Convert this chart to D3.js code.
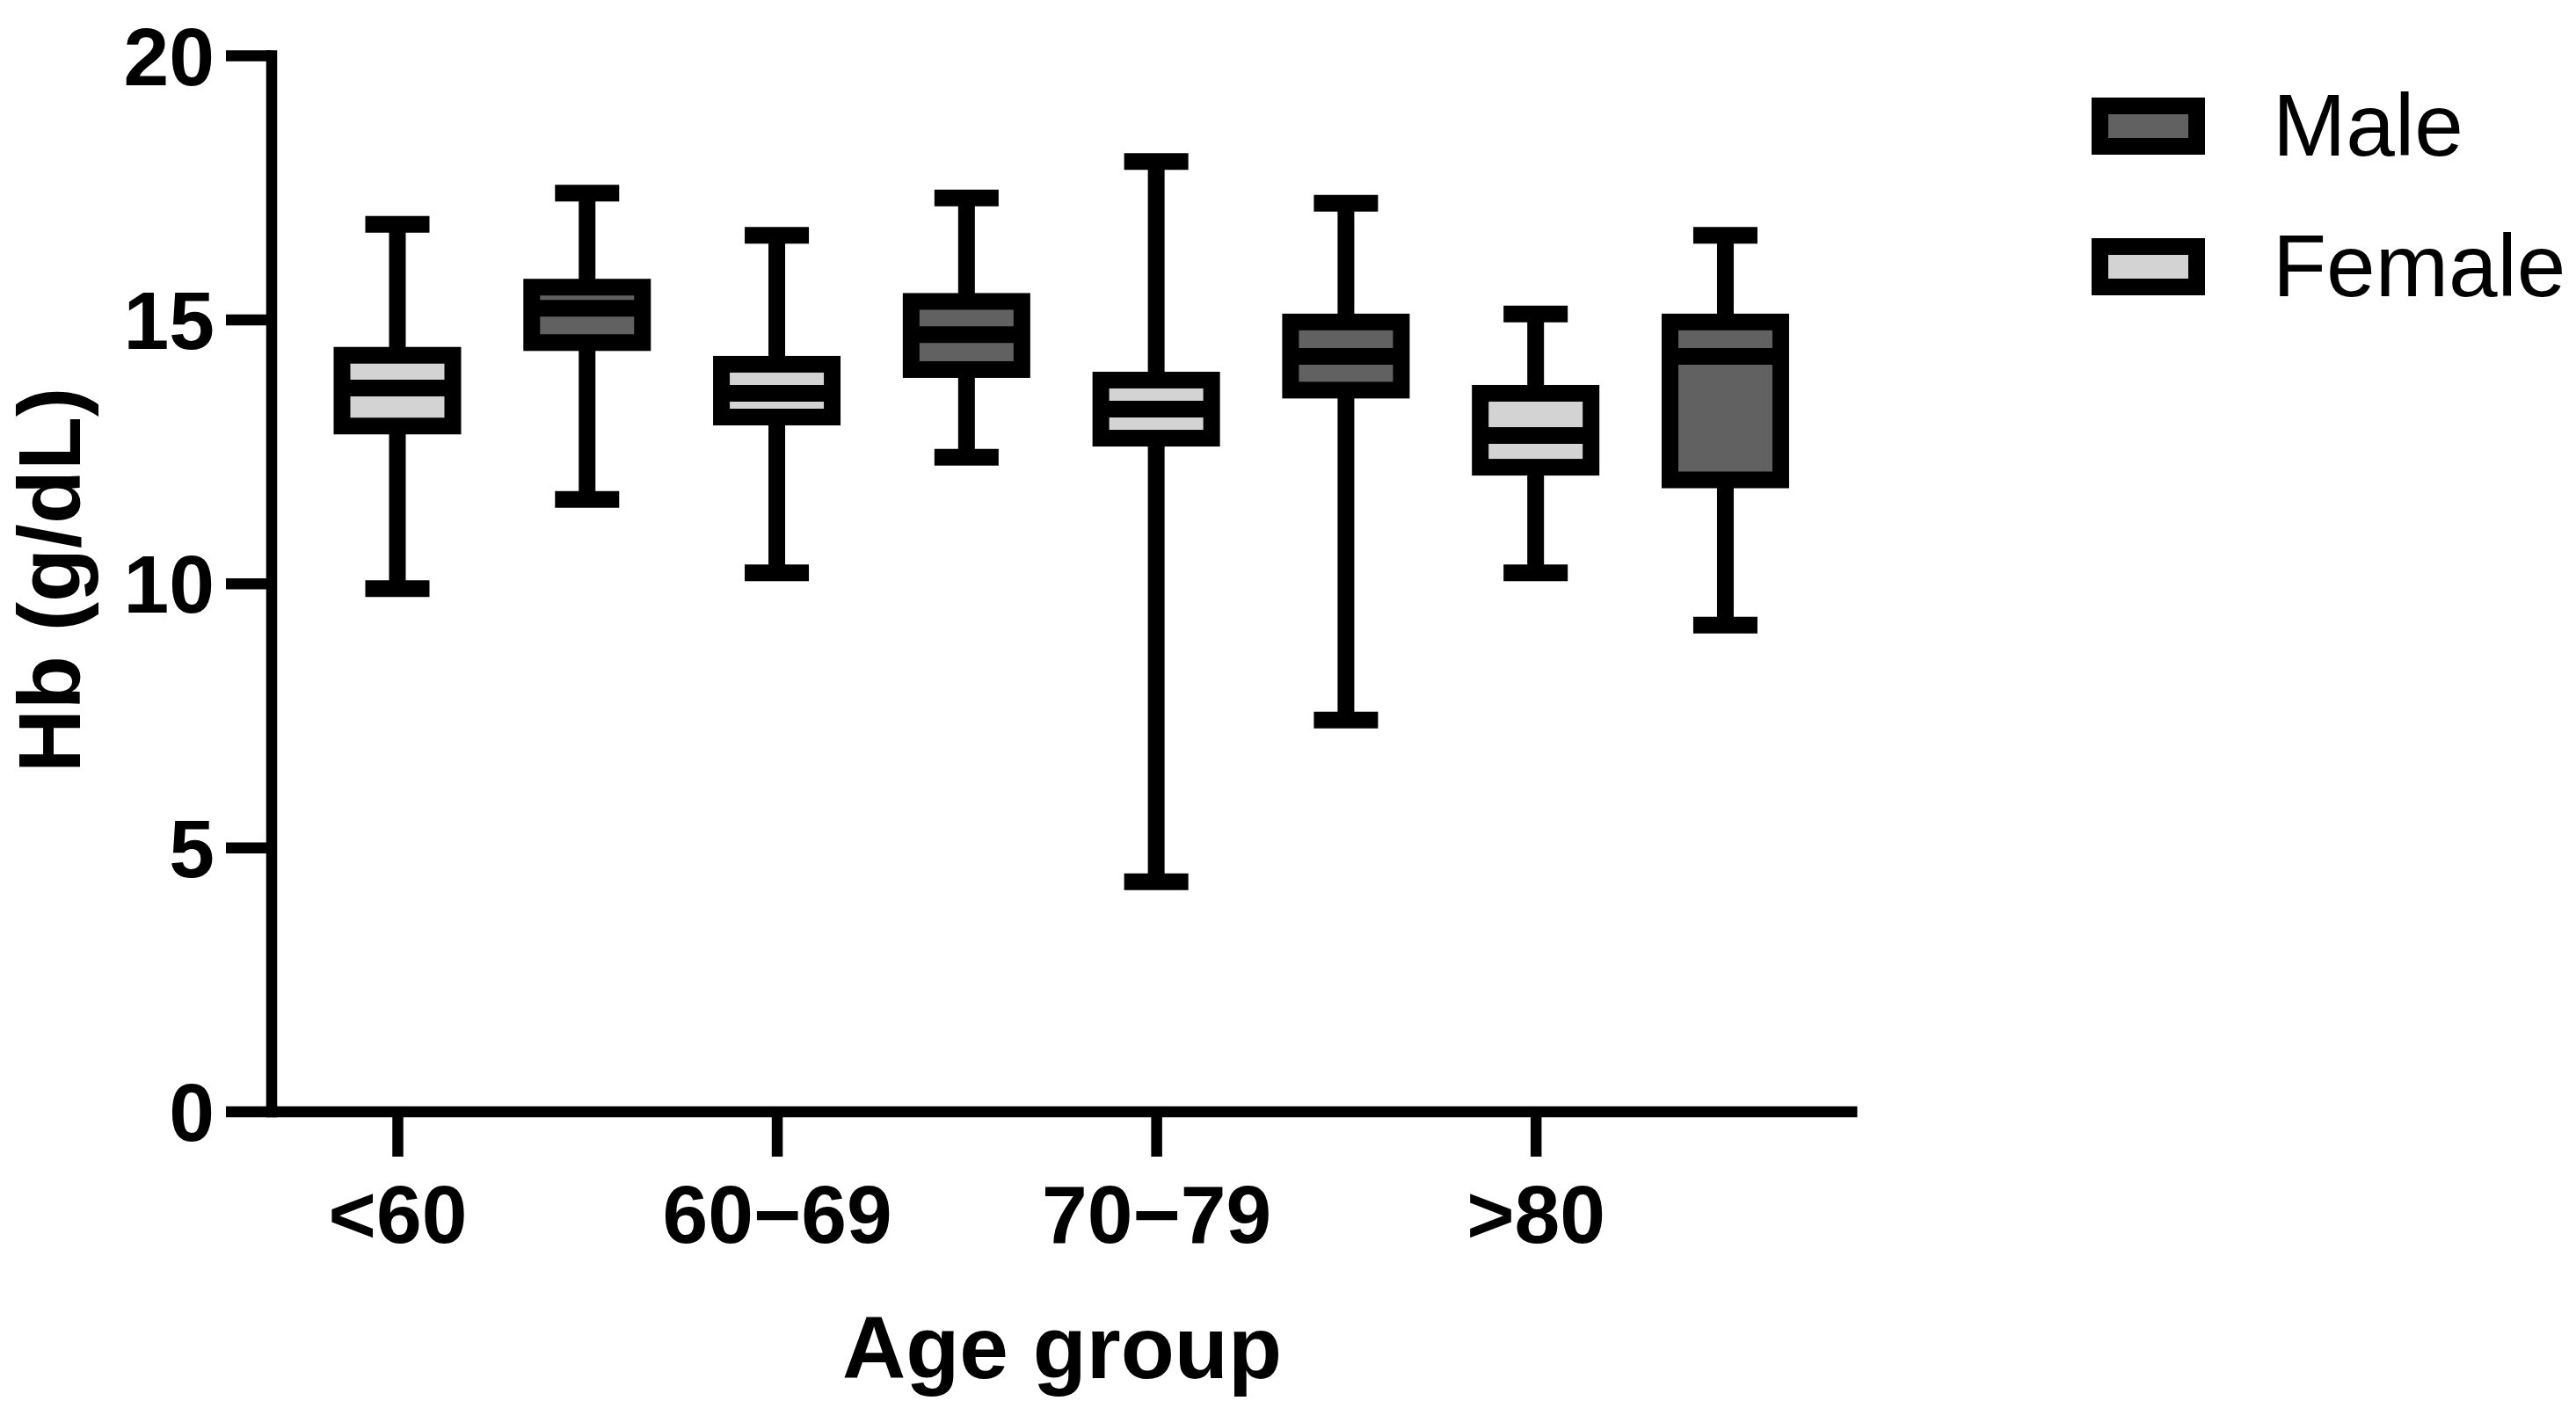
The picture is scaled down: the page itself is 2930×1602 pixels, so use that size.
<!DOCTYPE html>
<html>
<head>
<meta charset="utf-8">
<script src="https://cdn.jsdelivr.net/npm/d3@7"></script>
<style>
  html, body { margin: 0; padding: 0; background: #fff; }
  svg { display: block; }
</style>
</head>
<body>
<svg id="chart" width="2930" height="1602"></svg>
<script>
// ---- Data (Hb g/dL) ----
const ageGroups = ["<60", "60\u221269", "70\u221279", ">80"];
const seriesNames = ["Male", "Female"];

const femaleMin    = [9.90, 10.20, 4.35, 10.20];
const femaleQ1     = [12.98, 13.15, 12.75, 12.20];
const femaleMedian = [13.70, 13.60, 13.30, 12.80];
const femaleQ3     = [14.32, 14.15, 13.85, 13.60];
const femaleMax    = [16.80, 16.59, 17.99, 15.10];

const maleMin      = [11.59, 12.39, 7.41, 9.21];
const maleQ1       = [14.56, 14.05, 13.66, 11.96];
const maleMedian   = [15.21, 14.71, 14.30, 14.30];
const maleQ3       = [15.61, 15.34, 14.95, 14.95];
const maleMax      = [17.39, 17.30, 17.20, 16.59];

const yTicks = [0, 5, 10, 15, 20];

// ---- Styles ----
const maleFill = "#616161";
const femaleFill = "#d3d3d3";
const boxStroke = 19;
const axisStroke = 12.5;
const fontFamily = "'Liberation Sans', Arial, sans-serif";

// ---- Build box records: female at the tick, male right after ----
const boxes = [];
ageGroups.forEach((g, i) => {
  boxes.push({ pos: i * 2, fill: femaleFill, min: femaleMin[i], q1: femaleQ1[i], med: femaleMedian[i], q3: femaleQ3[i], max: femaleMax[i] });
  boxes.push({ pos: i * 2 + 1, fill: maleFill, min: maleMin[i], q1: maleQ1[i], med: maleMedian[i], q3: maleQ3[i], max: maleMax[i] });
});

const svg = d3.select("#chart");

const x = d3.scaleLinear().domain([-0.665, 7.693]).range([308.5, 2112]);
const y = d3.scaleLinear().domain([0, 20]).range([1264.5, 63]);

const boxHalf = 63;   // half width between stroke centres
const capHalf = 36.5;

// ---- Axes ----
const yAxis = d3.axisLeft(y).tickValues(yTicks).tickSize(51.5).tickSizeOuter(0).tickPadding(13);
const gy = svg.append("g").attr("transform", `translate(${x.range()[0]},0)`).call(yAxis);
gy.select(".domain").attr("stroke-width", axisStroke).attr("stroke-linecap", "square").attr("stroke", "#000");
gy.selectAll(".tick line").attr("stroke-width", axisStroke).attr("stroke", "#000");
gy.selectAll(".tick text")
  .attr("font-family", fontFamily).attr("font-weight", "bold").attr("font-size", 93)
  .attr("fill", "#000").attr("dy", "0.355em");

const xAxis = d3.axisBottom(x).tickValues([0, 2, 4, 6]).tickFormat((d) => ageGroups[d / 2])
  .tickSize(51.5).tickSizeOuter(0);
const gx = svg.append("g").attr("transform", `translate(0,${y(0)})`).call(xAxis);
gx.select(".domain").attr("stroke-width", axisStroke).attr("stroke", "#000");
gx.selectAll(".tick line").attr("stroke-width", axisStroke).attr("stroke", "#000");
gx.selectAll(".tick text")
  .attr("font-family", fontFamily).attr("font-weight", "bold").attr("font-size", 93)
  .attr("fill", "#000").attr("y", 149.5).attr("dy", 0);

// ---- Axis titles ----
svg.append("text")
  .attr("transform", "translate(91,660) rotate(-90)")
  .attr("text-anchor", "middle")
  .attr("font-family", fontFamily).attr("font-weight", "bold").attr("font-size", 100)
  .text("Hb (g/dL)");

svg.append("text")
  .attr("x", 1208).attr("y", 1568)
  .attr("text-anchor", "middle")
  .attr("font-family", fontFamily).attr("font-weight", "bold").attr("font-size", 100)
  .text("Age group");

// ---- Box plots ----
const g = svg.append("g");

// whiskers
g.selectAll("line.wu").data(boxes).join("line").attr("class", "wu")
  .attr("x1", (d) => x(d.pos)).attr("x2", (d) => x(d.pos))
  .attr("y1", (d) => y(d.max)).attr("y2", (d) => y(d.q3))
  .attr("stroke", "#000").attr("stroke-width", boxStroke);
g.selectAll("line.wl").data(boxes).join("line").attr("class", "wl")
  .attr("x1", (d) => x(d.pos)).attr("x2", (d) => x(d.pos))
  .attr("y1", (d) => y(d.q1)).attr("y2", (d) => y(d.min))
  .attr("stroke", "#000").attr("stroke-width", boxStroke);

// caps
g.selectAll("line.cmax").data(boxes).join("line").attr("class", "cmax")
  .attr("x1", (d) => x(d.pos) - capHalf).attr("x2", (d) => x(d.pos) + capHalf)
  .attr("y1", (d) => y(d.max)).attr("y2", (d) => y(d.max))
  .attr("stroke", "#000").attr("stroke-width", boxStroke);
g.selectAll("line.cmin").data(boxes).join("line").attr("class", "cmin")
  .attr("x1", (d) => x(d.pos) - capHalf).attr("x2", (d) => x(d.pos) + capHalf)
  .attr("y1", (d) => y(d.min)).attr("y2", (d) => y(d.min))
  .attr("stroke", "#000").attr("stroke-width", boxStroke);

// boxes
g.selectAll("rect.box").data(boxes).join("rect").attr("class", "box")
  .attr("x", (d) => x(d.pos) - boxHalf).attr("width", boxHalf * 2)
  .attr("y", (d) => y(d.q3)).attr("height", (d) => y(d.q1) - y(d.q3))
  .attr("fill", (d) => d.fill).attr("stroke", "#000").attr("stroke-width", boxStroke);

// medians
g.selectAll("line.med").data(boxes).join("line").attr("class", "med")
  .attr("x1", (d) => x(d.pos) - boxHalf).attr("x2", (d) => x(d.pos) + boxHalf)
  .attr("y1", (d) => y(d.med)).attr("y2", (d) => y(d.med))
  .attr("stroke", "#000").attr("stroke-width", boxStroke);

// ---- Legend ----
const legendFills = [maleFill, femaleFill];
const legendY = [120.5, 280.5];
const lg = svg.append("g");
seriesNames.forEach((name, i) => {
  lg.append("rect")
    .attr("x", 2388.5).attr("y", legendY[i]).attr("width", 110).attr("height", 46)
    .attr("fill", legendFills[i]).attr("stroke", "#000").attr("stroke-width", boxStroke);
  lg.append("text")
    .attr("x", 2585).attr("y", legendY[i] + 56.5)
    .attr("font-family", fontFamily).attr("font-size", 100).attr("fill", "#000")
    .text(name);
});
</script>
</body>
</html>
